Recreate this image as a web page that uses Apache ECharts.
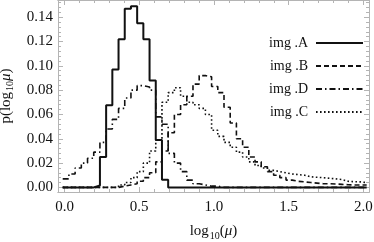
<!DOCTYPE html>
<html><head><meta charset="utf-8">
<script src="https://cdn.jsdelivr.net/npm/echarts@6/dist/echarts.min.js"></script>
<style>html,body{margin:0;padding:0;background:#fff}#c{width:374px;height:242px}</style>
</head><body><div id="c"></div>
<script>
// histogram bins: left edge of bin i = binStart + i*binWidth
const binStart = -0.012;
const binWidth = 0.0415;
const seriesNames = ['img .A', 'img .B', 'img .D', 'img .C'];
const imgA = [0,0,0,0,0,0.0015,0.025,0.0675,0.097,0.122,0.147,0.149,0.135,0.122,0.088,0.039,0.0063,0,0,0,0,0,0,0,0,0,0,0,0,0,0,0,0,0,0,0,0,0,0,0,0,0,0,0,0,0,0,0,0];
const imgB = [0,0,0,0,0,0,0,0,0,0.001,0.002,0.003,0.005,0.008,0.012,0.021,0.03,0.045,0.06,0.068,0.075,0.085,0.092,0.091,0.083,0.078,0.066,0.053,0.04,0.033,0.025,0.021,0.017,0.013,0.01,0.008,0.006,0.005,0.0045,0.004,0.0035,0.003,0.003,0.0028,0.0025,0.0022,0.002,0.002,0.002];
const imgD = [0.007,0.011,0.016,0.02,0.024,0.029,0.037,0.048,0.056,0.065,0.0735,0.08,0.0837,0.0826,0.08,0.058,0.052,0.028,0.02,0.013,0.006,0.003,0.002,0.001,0.001,0,0,0,0,0,0,0,0,0,0,0,0,0,0,0,0,0,0,0,0,0,0,0,0];
const imgC = [0,0,0,0,0,0,0,0,0,0.002,0.004,0.008,0.013,0.02,0.03,0.039,0.07,0.078,0.082,0.075,0.07,0.068,0.065,0.06,0.047,0.042,0.037,0.033,0.029,0.025,0.021,0.018,0.016,0.014,0.013,0.012,0.011,0.0105,0.01,0.0087,0.0083,0.008,0.0075,0.007,0.0065,0.005,0.0047,0.0045,0.004];
const xTicks = [0, 0.5, 1, 1.5, 2];
const xMinorTicks = [0.1,0.2,0.3,0.4,0.6,0.7,0.8,0.9,1.1,1.2,1.3,1.4,1.6,1.7,1.8,1.9];
const yTicks = [0, 0.02, 0.04, 0.06, 0.08, 0.10, 0.12, 0.14];
const yMinorTicks = [0.004,0.008,0.012,0.016,0.024,0.028,0.032,0.036,0.044,0.048,0.052,0.056,0.064,0.068,0.072,0.076,0.084,0.088,0.092,0.096,0.104,0.108,0.112,0.116,0.124,0.128,0.132,0.136,0.144,0.148,0.152];

function steps(vals) {
  const pts = vals.map((v, i) => [binStart + i * binWidth, v]);
  pts.push([binStart + vals.length * binWidth, vals[vals.length - 1]]);
  return pts;
}

const FRAME = '#b4b4b4';
const FONT = 'Liberation Serif';
const xRange = { min: -0.0435, max: 2.037 };
const yRange = { min: -0.0038, max: 0.1542 };

function xAxis(pos, ticks, len, labels) {
  return {
    type: 'value', position: pos, ...xRange,
    axisLine: { show: true, onZero: false, lineStyle: { color: FRAME, width: 1 } },
    splitLine: { show: false },
    axisTick: { show: true, inside: true, length: len, customValues: ticks, lineStyle: { color: FRAME } },
    axisLabel: labels ? { show: true, customValues: ticks, margin: 8, color: '#111', fontFamily: FONT, fontSize: 15,
      formatter: v => v.toFixed(1) } : { show: false }
  };
}
function yAxis(pos, ticks, len, labels) {
  return {
    type: 'value', position: pos, ...yRange,
    axisLine: { show: true, onZero: false, lineStyle: { color: FRAME, width: 1 } },
    splitLine: { show: false },
    axisTick: { show: true, inside: true, length: len, customValues: ticks, lineStyle: { color: FRAME } },
    axisLabel: labels ? { show: true, customValues: ticks, margin: 5, color: '#111', fontFamily: FONT, fontSize: 15,
      formatter: v => v.toFixed(2) } : { show: false }
  };
}

const titleRich = {
  a: { fontFamily: FONT, fontSize: 15, color: '#111' },
  s: { fontFamily: FONT, fontSize: 10, color: '#111', padding: [10, 0, 0, 1] },
  m: { fontFamily: FONT, fontSize: 15, fontStyle: 'italic', color: '#111' }
};
const xAxes = [xAxis('bottom', xTicks, 5, true), xAxis('bottom', xMinorTicks, 3, false), xAxis('top', xTicks, 5, false), xAxis('top', xMinorTicks, 3, false)];
xAxes[0].name = '{a|log}{s|10}{a|(}{m|μ}{a|)}';
xAxes[0].nameLocation = 'middle';
xAxes[0].nameGap = 29;
xAxes[0].nameTextStyle = { rich: titleRich };
const yAxes = [yAxis('left', yTicks, 5, true), yAxis('left', yMinorTicks, 3, false), yAxis('right', yTicks, 5, false), yAxis('right', yMinorTicks, 3, false)];
yAxes[0].name = '{a|p(log}{s|10}{m|μ}{a|)}';
yAxes[0].nameLocation = 'middle';
yAxes[0].nameGap = 39;
yAxes[0].nameRotate = 90;
yAxes[0].nameTextStyle = { rich: titleRich };

const styles = [
  { type: 'solid', width: 2 },
  { type: [5, 3], width: 1.6 },
  { type: [6, 3, 1.5, 3], width: 1.6 },
  { type: [1.6, 2.4], width: 1.6 }
];
const datasets = [imgA, imgB, imgD, imgC];

const chart = echarts.init(document.getElementById('c'), null, { renderer: 'canvas' });
chart.setOption({
  animation: false,
  backgroundColor: '#fff',
  grid: { left: 58, right: 5, top: 0, bottom: 50, containLabel: false, outerBoundsMode: 'none' },
  xAxis: xAxes,
  yAxis: yAxes,
  legend: {
    orient: 'vertical', right: 5, top: 31, align: 'right',
    itemWidth: 47, itemHeight: 12, itemGap: 9,
    data: seriesNames,
    itemStyle: { color: 'rgba(0,0,0,0)', borderWidth: 0, opacity: 0 },
    textStyle: { fontFamily: FONT, fontSize: 14, color: '#111', padding: [0, 3, 0, 0] }
  },
  series: datasets.map((d, k) => ({
    name: seriesNames[k], type: 'line', step: 'end', data: steps(d),
    xAxisIndex: 0, yAxisIndex: 0,
    symbol: 'none', showSymbol: false,
    lineStyle: Object.assign({ color: '#111' }, styles[k]),
    itemStyle: { color: '#111' }
  }))
});
</script></body></html>
